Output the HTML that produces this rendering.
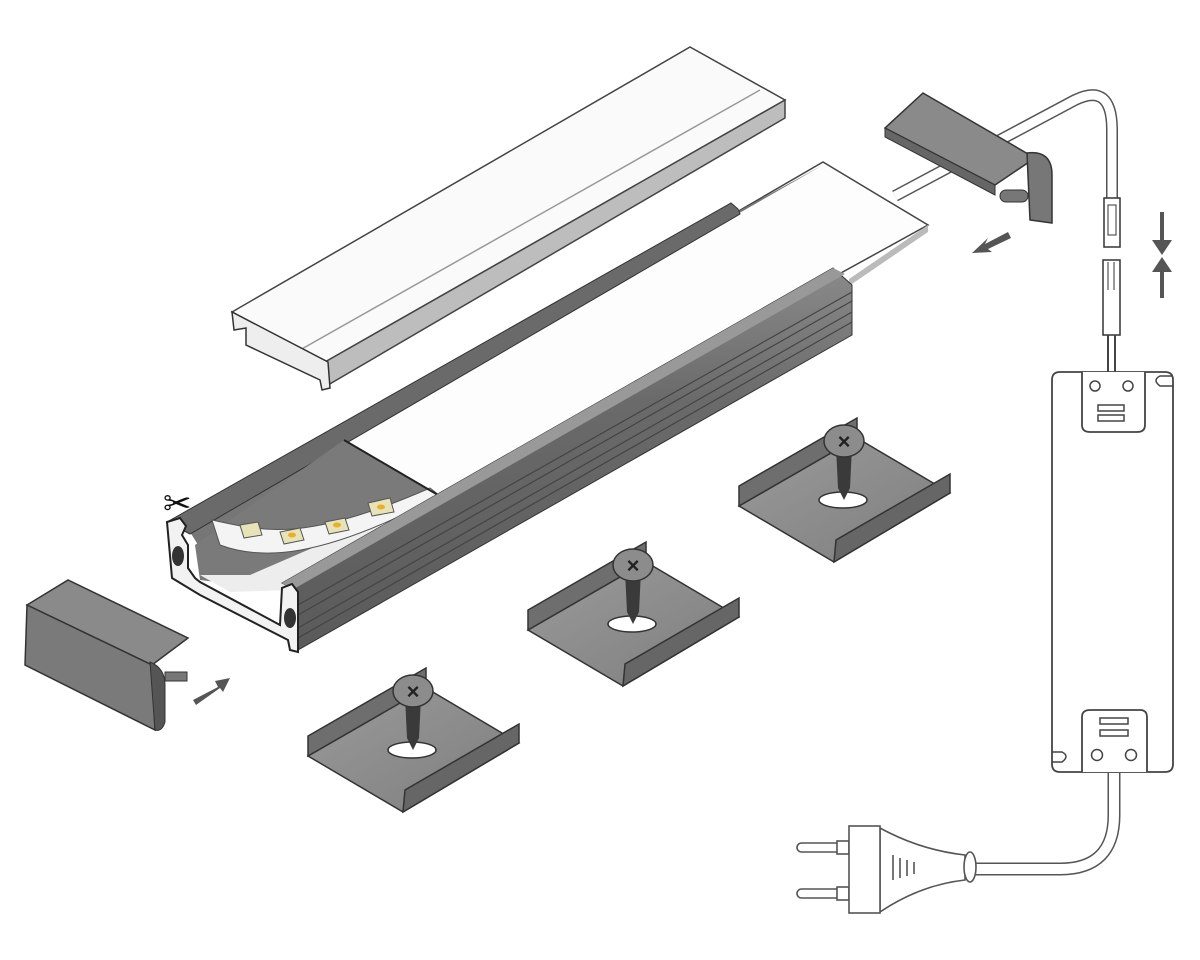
<!DOCTYPE html>
<html><head><meta charset="utf-8"><style>html,body{margin:0;padding:0;background:#fff}svg{display:block}</style></head>
<body>
<svg width="1200" height="960" viewBox="0 0 1200 960" xmlns="http://www.w3.org/2000/svg">
<defs>
<linearGradient id="side" x1="0" y1="0" x2="0" y2="1"><stop offset="0" stop-color="#8a8a8a"/><stop offset="0.35" stop-color="#6a6a6a"/><stop offset="1" stop-color="#5a5a5a"/></linearGradient>
<linearGradient id="clipg" x1="0" y1="0" x2="1" y2="1"><stop offset="0" stop-color="#9a9a9a"/><stop offset="1" stop-color="#7e7e7e"/></linearGradient>
<g id="clip">
  <polygon points="308,756 426,688 519,743 403,812" fill="url(#clipg)" stroke="#333" stroke-width="1.5"/>
  <polygon points="308,756 426,688 426,668 308,736" fill="#6e6e6e" stroke="#333" stroke-width="1.5"/>
  <polygon points="403,812 519,743 519,724 405,790" fill="#666" stroke="#333" stroke-width="1.5"/>
  <ellipse cx="412" cy="750" rx="24" ry="8" fill="#fff" stroke="#333" stroke-width="1.5"/>
  <polygon points="405,697 421,697 419,738 413,750 407,738" fill="#3a3a3a"/>
  <ellipse cx="413" cy="691" rx="20" ry="16" fill="#8c8c8c" stroke="#333" stroke-width="1.5"/>
  <text x="413" y="699" font-family="Liberation Sans, sans-serif" font-size="22" font-weight="bold" text-anchor="middle" fill="#222">×</text>
</g>
</defs>

<!-- diffuser cover -->
<polygon points="232,312 690,47 785,100 325,362" fill="#fafafa" stroke="#444" stroke-width="1.5"/>
<polygon points="325,362 785,100 785,118 328,385" fill="#bdbdbd" stroke="#444" stroke-width="1.5"/>
<line x1="300" y1="350" x2="760" y2="90" stroke="#999" stroke-width="1.5"/>
<path d="M232,312 L234,330 L246,328 L246,345 L320,380 L322,390 L330,388 L328,362 Z" fill="#eee" stroke="#333" stroke-width="1.5"/>

<!-- white plate -->
<polygon points="344,440 823,162 928,225 438,495" fill="#fdfdfd" stroke="#444" stroke-width="1.5"/>
<polygon points="849,279 928,225 928,232 849,286" fill="#bbb"/>
<!-- left wall -->
<polygon points="190,532 735,213 823,165 344,440 200,548" fill="#767676"/>
<polygon points="167,522 731,203 738,209 740,214 190,534" fill="#6a6a6a" stroke="#333" stroke-width="1"/>
<!-- channel interior -->
<polygon points="195,545 344,440 438,495 282,590 200,580" fill="#7a7a7a"/>
<polygon points="200,575 250,575 400,510 430,500 290,590 230,592" fill="#ededed"/>
<path d="M212,520 C260,530 300,545 430,488 L440,496 C320,560 260,560 220,545 Z" fill="#f4f4f4" stroke="#555" stroke-width="1"/>
<g fill="#e8e2b8" stroke="#555" stroke-width="1">
<polygon points="240,525 258,522 262,535 244,538"/>
<polygon points="280,532 300,528 304,540 284,544"/>
<polygon points="325,522 345,518 349,530 329,534"/>
<polygon points="368,503 390,498 394,512 372,516"/>
</g>
<g fill="#e8b030"><ellipse cx="292" cy="535" rx="4" ry="2.5"/><ellipse cx="337" cy="525" rx="4" ry="2.5"/><ellipse cx="381" cy="507" rx="4" ry="2.5"/></g>
<line x1="344" y1="440" x2="438" y2="495" stroke="#222" stroke-width="2"/>
<!-- right wall -->
<polygon points="282,583 833,268 852,285 852,335 298,650 298,592" fill="url(#side)" stroke="#333" stroke-width="1"/>
<polygon points="282,583 833,268 845,274 292,590" fill="#999"/>
<g stroke="#444" stroke-width="1.2">
<line x1="298" y1="605" x2="852" y2="292"/><line x1="298" y1="615" x2="852" y2="301"/><line x1="298" y1="628" x2="852" y2="312"/><line x1="298" y1="638" x2="852" y2="322"/>
</g>
<!-- left end cross-section -->
<path d="M167,522 L180,518 L186,526 L182,535 L188,545 L188,568 L195,578 L200,582 L280,625 L282,588 L292,584 L298,592 L298,652 L290,650 L288,640 L200,595 L172,578 Z" fill="#f2f2f2" stroke="#222" stroke-width="2"/>
<ellipse cx="178" cy="556" rx="6" ry="10" fill="#333"/>
<ellipse cx="290" cy="618" rx="6" ry="10" fill="#333"/>
<text x="163" y="515" font-family="DejaVu Sans, sans-serif" font-size="34" fill="#111">✂</text>

<!-- left end cap -->
<polygon points="27,605 68,580 188,638 152,665" fill="#8a8a8a" stroke="#333" stroke-width="1.5"/>
<polygon points="27,605 152,665 155,730 25,665" fill="#7a7a7a" stroke="#333" stroke-width="1.5"/>
<path d="M150,662 Q165,668 165,685 L165,722 Q162,732 155,730 Z" fill="#555" stroke="#333"/>
<rect x="165" y="672" width="22" height="9" fill="#777" stroke="#333"/>
<polygon points="193,700 218,687 215,681 230,678 223,692 220,688 196,705" fill="#555"/>

<!-- clips -->
<use href="#clip"/>
<use href="#clip" transform="translate(220,-126)"/>
<use href="#clip" transform="translate(431,-250)"/>

<!-- cable from right cap -->
<path d="M895,196 L1075,100 Q1112,82 1112,130 L1112,200" fill="none" stroke="#555" stroke-width="12"/>
<path d="M895,196 L1075,100 Q1112,82 1112,130 L1112,200" fill="none" stroke="#fff" stroke-width="9"/>
<!-- right end cap -->
<polygon points="885,128 923,93 1035,158 995,185" fill="#8a8a8a" stroke="#333" stroke-width="1.5"/>
<polygon points="885,128 995,185 995,195 885,137" fill="#666" stroke="#333"/>
<path d="M1027,153 Q1052,150 1052,175 L1052,223 L1030,220 Z" fill="#777" stroke="#333" stroke-width="1.5"/>
<rect x="1000" y="190" width="28" height="12" rx="6" fill="#777" stroke="#333"/>
<polygon points="1008,232 985,244 988,238 972,253 992,252 988,249 1011,238" fill="#555"/>

<!-- connectors -->
<rect x="1104" y="198" width="16" height="49" fill="#fff" stroke="#333" stroke-width="1.5"/>
<rect x="1108" y="205" width="8" height="30" fill="none" stroke="#333"/>
<rect x="1103" y="260" width="17" height="75" fill="#fff" stroke="#333" stroke-width="1.5"/>
<line x1="1108" y1="262" x2="1108" y2="290" stroke="#333"/><line x1="1114" y1="262" x2="1114" y2="290" stroke="#333"/>
<path d="M1108,335 L1108,372 M1115,335 L1115,372" stroke="#444" stroke-width="2"/>
<path d="M1162,212 L1162,240" stroke="#555" stroke-width="4"/><polygon points="1152,240 1172,240 1162,255" fill="#555"/>
<path d="M1162,272 L1162,298" stroke="#555" stroke-width="4"/><polygon points="1152,272 1172,272 1162,257" fill="#555"/>

<!-- power supply -->
<path d="M1052,380 Q1052,372 1060,372 L1165,372 Q1173,372 1173,380 L1173,764 Q1173,772 1165,772 L1060,772 Q1052,772 1052,764 Z" fill="#fff" stroke="#444" stroke-width="1.8"/>
<path d="M1082,372 L1082,425 Q1082,432 1090,432 L1137,432 Q1145,432 1145,425 L1145,372" fill="#fff" stroke="#444" stroke-width="1.8"/>
<circle cx="1095" cy="386" r="5" fill="none" stroke="#444" stroke-width="1.5"/><circle cx="1128" cy="386" r="5" fill="none" stroke="#444" stroke-width="1.5"/>
<rect x="1098" y="405" width="26" height="6" fill="none" stroke="#444" stroke-width="1.5"/><rect x="1098" y="415" width="26" height="6" fill="none" stroke="#444" stroke-width="1.5"/>
<path d="M1173,376 L1160,376 Q1152,380 1160,386 L1173,386" fill="none" stroke="#444" stroke-width="1.5"/>
<path d="M1082,772 L1082,717 Q1082,710 1090,710 L1140,710 Q1147,710 1147,717 L1147,772" fill="#fff" stroke="#444" stroke-width="1.8"/>
<rect x="1100" y="718" width="28" height="6" fill="none" stroke="#444" stroke-width="1.5"/><rect x="1100" y="730" width="28" height="6" fill="none" stroke="#444" stroke-width="1.5"/>
<circle cx="1097" cy="755" r="5.5" fill="none" stroke="#444" stroke-width="1.5"/><circle cx="1131" cy="755" r="5.5" fill="none" stroke="#444" stroke-width="1.5"/>
<path d="M1052,752 L1062,752 Q1070,756 1062,762 L1052,762" fill="none" stroke="#444" stroke-width="1.5"/>

<!-- mains cable & plug -->
<path d="M975,869 L1060,869 Q1114,869 1114,815 L1114,773" fill="none" stroke="#555" stroke-width="13"/>
<path d="M975,869 L1060,869 Q1114,869 1114,815 L1114,773" fill="none" stroke="#fff" stroke-width="10"/>
<g stroke="#555" stroke-width="1.6" fill="#fff">
<rect x="797" y="843" width="45" height="9" rx="4.5"/><rect x="797" y="889" width="45" height="9" rx="4.5"/>
<rect x="837" y="841" width="12" height="13"/><rect x="837" y="887" width="12" height="13"/>
<path d="M880,828 Q920,850 965,855 L965,880 Q920,885 880,912 Z"/>
<rect x="849" y="826" width="31" height="87"/>
<ellipse cx="970" cy="867" rx="6" ry="15"/>
<path d="M893,855 L893,880 M900,858 L900,878 M907,860 L907,876 M914,862 L914,874" fill="none"/>
</g>
</svg>
</body></html>
